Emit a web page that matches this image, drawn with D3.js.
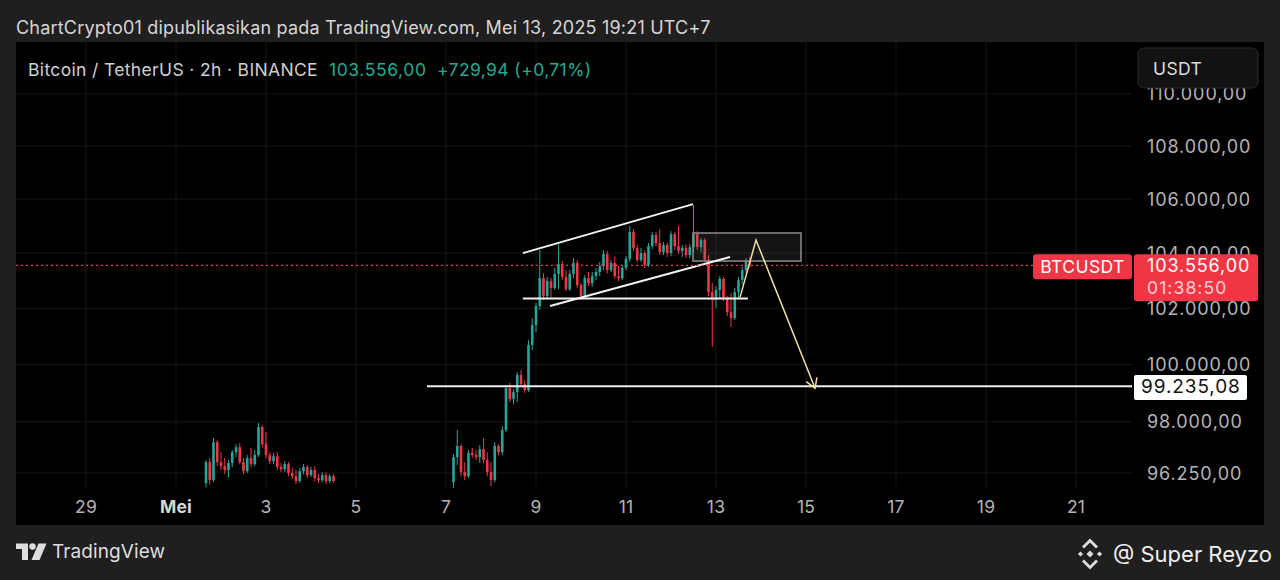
<!DOCTYPE html>
<html><head><meta charset="utf-8">
<script src="https://cdn.jsdelivr.net/npm/d3@7/dist/d3.min.js"></script>
<style>
html,body{margin:0;padding:0;background:#1f1f1f;}
svg{display:block;font-family:Inter,"Noto Sans",Roboto,sans-serif;}
</style></head><body>
<svg id="c" width="1280" height="580"></svg>
<script>
// ---------- DATA ----------
const seg1Start = new Date(2025,4,1,16,0);
const seg1Open  = [95910,96620,96010,97300,96620,96480,96350,96590,96960,97130,96620,96310,96760,96550,96860,97820,97230,96860,96650,96820,96450,96380,96550,96250,96140,95980,96310,96450,96180,96350,96080,96010,96180,95980,96140];
const seg1High  = [96690,96760,97440,97370,96960,96760,96690,97030,97230,97270,96760,96860,97100,97030,97960,97890,97650,96960,96930,96960,96590,96650,96620,96420,96350,96420,96550,96520,96450,96480,96210,96280,96280,96210,96210];
const seg1Low   = [95770,95870,95940,96480,96350,96210,96110,96450,96790,96550,96210,96250,96450,96480,96790,97130,96760,96550,96550,96350,96280,96280,96140,96040,95870,95910,96210,96080,96110,95980,95910,95940,95870,95910,95910];
const seg1Close = [96620,96010,97300,96620,96480,96350,96590,96960,97130,96620,96310,96760,96550,96860,97820,97230,96860,96650,96820,96450,96380,96550,96250,96140,95980,96310,96450,96180,96350,96080,96010,96180,95980,96140,95980];

const seg2Start = new Date(2025,4,7,4,0);
const seg2Open = [95940,96790,97170,96280,96140,96930,96860,96790,97060,96690,
96280,96010,97170,96960,97715,99170,98790,99030,99630,99310,
99100,100690,101400,102080,103090,102440,102980,102730,103240,103600,
103130,102690,103240,103640,102840,102440,103090,102910,103160,103310,
103530,103970,103380,103640,103160,103090,103460,103790,104780,104190,
103750,104000,103570,104260,104670,104370,104040,104300,104000,104700,
104260,104080,104190,103930,104220,104700,104220,104480,103750,102580,
102300,102660,103060,102370,101860,101650,102580,103020,103380,103710];
const seg2High = [96890,97715,97230,96620,97030,97100,97030,97200,97440,96960,
96620,97300,97230,97850,99280,99350,99140,99730,99800,99450,
100864,101650,102190,104110,103270,103130,103090,103460,104330,103710,
103380,103380,103820,103750,102910,103200,103310,103310,103460,103680,
104110,104080,103750,103890,103530,103570,103890,105000,104890,104300,
104190,104110,104370,104780,104780,104890,104410,104370,104810,104780,
105000,104300,104330,104330,105780,104810,104560,104560,103930,102910,
102800,103160,103130,102440,102550,102730,103130,103490,103820,103860];
const seg2Low = [95740,96520,96140,96010,96080,96760,96690,96590,96590,96140,
95810,95940,96860,96860,97650,98680,98610,98680,99240,99000,
99030,100510,101150,101940,102300,102330,102400,102660,102690,103020,
102620,102620,103090,102730,102300,102330,102800,102770,103020,103160,
103380,103270,103310,103060,102980,103020,103380,103680,104080,103680,
103680,103460,103490,104150,104260,103930,103930,103860,103890,104110,
103970,103860,103820,103820,104040,104110,104040,103680,102440,100620,
102010,102370,102260,101720,101330,101580,102370,102870,103270,103460];
const seg2Close = [96790,97170,96280,96140,96930,96860,96790,97060,96690,96280,
96010,97170,96960,97715,99170,98790,99030,99630,99310,99100,
100690,101400,102080,103090,102440,102980,102730,103240,103600,103130,
102690,103240,103640,102840,102440,103090,102910,103160,103310,103530,
103970,103380,103640,103160,103090,103460,103790,104780,104190,103750,
104000,103570,104260,104670,104370,104040,104300,104000,104700,104260,
104080,104190,103930,104220,104700,104220,104480,103750,102580,102300,
102660,103060,102370,101860,101650,102580,103020,103380,103710,103556];

const xTickDates  = [new Date(2025,3,29),new Date(2025,4,1),new Date(2025,4,3),new Date(2025,4,5),new Date(2025,4,7),new Date(2025,4,9),new Date(2025,4,11),new Date(2025,4,13),new Date(2025,4,15),new Date(2025,4,17),new Date(2025,4,19),new Date(2025,4,21)];
const xTickLabels = ["29","Mei","3","5","7","9","11","13","15","17","19","21"];
const yTicks = [96250,98000,100000,102000,104000,106000,108000,110000];

const lastPrice = 103556;
const countdown = "01:38:50";
const targetPrice = 99235.08;
const targetLineStart = new Date(2025,4,6,13,50);
const upperChannel = [[new Date(2025,4,8,17,0),104000],[new Date(2025,4,12,11,45),105810]];
const lowerChannel = [[new Date(2025,4,9,7,30),102080],[new Date(2025,4,13,7,30),103860]];
const supportLine  = [[new Date(2025,4,8,17,0),102350],[new Date(2025,4,13,17,0),102350]];
const resistBox    = {t0:new Date(2025,4,12,11,45), t1:new Date(2025,4,14,21,20), p0:104740, p1:103710};
const projection   = [[new Date(2025,4,13,12,50),102400],[new Date(2025,4,13,21,20),104480],[new Date(2025,4,15,4,50),99170]];

const titleText = "ChartCrypto01 dipublikasikan pada TradingView.com, Mei 13, 2025 19:21 UTC+7";
const symbolText = "Bitcoin / TetherUS · 2h · BINANCE";
const priceText = "103.556,00";
const changeText = "+729,94 (+0,71%)";

// ---------- SETUP ----------
const svg = d3.select("#c");
const plot = {l:16, r:1132, t:42, b:488};
const UP="#26a69a", DOWN="#f23645";
const loc = d3.formatLocale({decimal:",",thousands:".",grouping:[3],currency:["",""]});
const fmt = loc.format(",.2f");

const x = d3.scaleTime().domain([new Date(2025,4,1), new Date(2025,4,21)]).range([176, 1076]);
const y = d3.scaleLog().domain([96250,108000]).range([473,146]);

function build(start,O,Hh,L,C){return O.map((o,i)=>({t:d3.timeHour.offset(start,2*i),o:o,h:Hh[i],l:L[i],c:C[i]}));}
const candles = build(seg1Start,seg1Open,seg1High,seg1Low,seg1Close).concat(build(seg2Start,seg2Open,seg2High,seg2Low,seg2Close));

function txt(g,xx,yy,s,size,fill,ls){
  return g.append("text").attr("x",xx).attr("y",yy).attr("dominant-baseline","central")
    .attr("font-size",size).attr("fill",fill).attr("letter-spacing",ls||0).text(s);
}

// title
txt(svg,16,27,titleText,18,"#d6d6d6",0.2);

// panel
svg.append("rect").attr("x",16).attr("y",42).attr("width",1248).attr("height",483).attr("fill","#000");

const defs = svg.append("defs");
defs.append("clipPath").attr("id","pc").append("rect")
  .attr("x",plot.l).attr("y",plot.t).attr("width",plot.r-plot.l).attr("height",plot.b-plot.t);

// grid
const grid = svg.append("g").attr("stroke","#181818").attr("stroke-width",1);
xTickDates.forEach(d=>grid.append("line").attr("x1",x(d)).attr("x2",x(d)).attr("y1",plot.t).attr("y2",plot.b));
yTicks.forEach(v=>grid.append("line").attr("x1",plot.l).attr("x2",plot.r).attr("y1",y(v)).attr("y2",y(v)));

// header
txt(svg,28,69,symbolText,17.5,"#cfcfcf",0.35);
txt(svg,329,69,priceText,17.5,"#22ab94",0.6);
txt(svg,437,69,changeText,17.5,"#22ab94",0.4);

// candles
const cg = svg.append("g").attr("clip-path","url(#pc)");
const bw = 2.6;
candles.forEach(d=>{
  const col = d.c>=d.o?UP:DOWN;
  const cx = x(d.t);
  cg.append("line").attr("x1",cx).attr("x2",cx).attr("y1",y(d.h)).attr("y2",y(d.l)).attr("stroke",col).attr("stroke-width",1);
  const top = y(Math.max(d.o,d.c)), bot = y(Math.min(d.o,d.c));
  cg.append("rect").attr("x",cx-bw/2).attr("y",top).attr("width",bw).attr("height",Math.max(1,bot-top)).attr("fill",col);
});

// drawings
const dg = svg.append("g").attr("clip-path","url(#pc)");
dg.append("rect").attr("x",x(resistBox.t0)).attr("y",y(resistBox.p0))
  .attr("width",x(resistBox.t1)-x(resistBox.t0)).attr("height",y(resistBox.p1)-y(resistBox.p0))
  .attr("fill","rgba(110,110,110,0.18)").attr("stroke","#8c8c8c").attr("stroke-width",1.5);
const line = d3.line().x(p=>x(p[0])).y(p=>y(p[1]));
[upperChannel,lowerChannel,supportLine].forEach(seg=>{
  dg.append("path").attr("d",line(seg)).attr("stroke","#f2f2f2").attr("stroke-width",2).attr("fill","none");
});
dg.append("line").attr("x1",x(targetLineStart)).attr("x2",plot.r).attr("y1",y(targetPrice)).attr("y2",y(targetPrice))
  .attr("stroke","#eeeeee").attr("stroke-width",2);
dg.append("path").attr("d",line(projection)).attr("stroke","#efe1a2").attr("stroke-width",1.5).attr("fill","none");
{
  const a = projection[1], b = projection[2];
  const ax=x(a[0]), ay=y(a[1]), bx=x(b[0]), by=y(b[1]);
  const ang = Math.atan2(by-ay,bx-ax);
  const L=11, sp=0.55;
  const p1=[bx-L*Math.cos(ang-sp), by-L*Math.sin(ang-sp)];
  const p2=[bx-L*Math.cos(ang+sp), by-L*Math.sin(ang+sp)];
  dg.append("path").attr("d",`M${p1[0]},${p1[1]}L${bx},${by}L${p2[0]},${p2[1]}`)
    .attr("stroke","#efe1a2").attr("stroke-width",1.5).attr("fill","none");
}

// last price dotted line
svg.append("line").attr("x1",plot.l).attr("x2",plot.r).attr("y1",y(lastPrice)).attr("y2",y(lastPrice))
  .attr("stroke",DOWN).attr("stroke-width",1.2).attr("stroke-dasharray","2,3");

// x axis labels
xTickDates.forEach((d,i)=>{
  txt(svg,x(d),506,xTickLabels[i],17.5,i===1?"#d8d8d8":"#b4b4b4",0.2)
    .attr("text-anchor","middle").attr("font-weight",i===1?700:400);
});

// y axis labels
yTicks.forEach(v=>{ txt(svg,1147,y(v),fmt(v),18,"#b4b4b4",0.9); });

// USDT box
svg.append("rect").attr("x",1138).attr("y",48).attr("width",120).attr("height",40).attr("rx",6)
  .attr("fill","#121212").attr("stroke","#2c2c2c");
txt(svg,1153,68,"USDT",17.5,"#dcdcdc",0.4);

// target label
svg.append("rect").attr("x",1134).attr("y",375).attr("width",113).attr("height",25).attr("rx",2).attr("fill","#ffffff");
txt(svg,1141,y(targetPrice),fmt(targetPrice),19,"#111",0.9);

// last price labels
const ly = y(lastPrice);
svg.append("rect").attr("x",1033).attr("y",ly-11).attr("width",99).attr("height",25).attr("rx",3).attr("fill",DOWN);
txt(svg,1082.5,ly+1.5,"BTCUSDT",17.5,"#fff",0.4).attr("text-anchor","middle");
svg.append("rect").attr("x",1134).attr("y",ly-11).attr("width",124).attr("height",47).attr("rx",3).attr("fill",DOWN);
txt(svg,1147,ly,fmt(lastPrice),18,"#fff",0.9);
txt(svg,1147,ly+22,countdown,17.5,"rgba(255,255,255,0.75)",1.1);

// footer: TradingView logo
const lg = svg.append("g").attr("fill","#dedede");
lg.append("path").attr("d","M16,543.5H28V560H22V549H16Z");
lg.append("circle").attr("cx",32.5).attr("cy",546.5).attr("r",3.2);
lg.append("path").attr("d","M38.5,543.5H46.5L39.5,560H31.5Z");
txt(svg,52,551,"TradingView",19,"#dedede",0.1);

// footer: binance-style icon + author
const bg = svg.append("g").attr("fill","#dcdcdc").attr("transform","translate(1090,554)");
const dia = (cx,cy,r)=>`M${cx},${cy-r}L${cx+r},${cy}L${cx},${cy+r}L${cx-r},${cy}Z`;
bg.append("path").attr("d",dia(0,0,3.5));
bg.append("path").attr("d",dia(-9.5,0,2.6));
bg.append("path").attr("d",dia(9.5,0,2.6));
bg.append("path").attr("d","M-6,-5.5L0,-11.5L6,-5.5L8,-7.5L0,-15.5L-8,-7.5Z");
bg.append("path").attr("d","M-6,5.5L0,11.5L6,5.5L8,7.5L0,15.5L-8,7.5Z");
txt(svg,1272,554,"@ Super Reyzo",22,"#f0f0f0",0).attr("text-anchor","end");
</script>
</body></html>
